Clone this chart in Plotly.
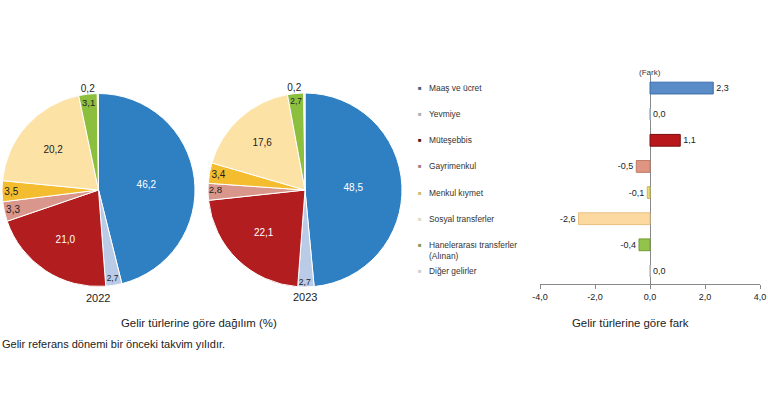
import plotly.graph_objects as go

categories = ["Maaş ve ücret", "Yevmiye", "Müteşebbis", "Gayrimenkul",
              "Menkul kıymet", "Sosyal transferler",
              "Hanelerarası transferler (Alınan)", "Diğer gelirler"]
legend_labels = ["Maaş ve ücret", "Yevmiye", "Müteşebbis", "Gayrimenkul",
                 "Menkul kıymet", "Sosyal transferler",
                 "Hanelerarası transferler<br>(Alınan)", "Diğer gelirler"]
share_2022 = [46.2, 2.7, 21.0, 3.3, 3.5, 20.2, 3.1, 0.2]
share_2023 = [48.5, 2.7, 22.1, 2.8, 3.4, 17.6, 2.7, 0.2]
difference = [2.3, 0.0, 1.1, -0.5, -0.1, -2.6, -0.4, 0.0]
x_ticks = [-4, -2, 0, 2, 4]

pie_colors = ["#2f7fc3", "#b9cbe6", "#b21d1f", "#d9968a",
              "#f3bd2f", "#fde2a6", "#8dbf3f", "#e6e6e6"]
bar_colors = ["#5a8cc8", "#bfcde3", "#b8171c", "#e09583",
              "#e8d87a", "#fbd9a1", "#93c34b", "#e0e0e0"]
bar_lines = ["#3d6ea8", "#a0b2cc", "#7a0f12", "#c07866",
             "#c8b850", "#e8c080", "#6f9c30", "#c0c0c0"]
legend_marker = ["#3f5f80", "#a8b0bc", "#5a1a22", "#a08088",
                 "#c8c070", "#e0dcc0", "#7f9a58", "#d0d0d0"]
text_colors = ["white", "#222", "white", "#222", "#222", "#222", "#222", "#222"]

FONT = "Liberation Sans, Arial, sans-serif"


def fmt(v):
    return f"{v:.1f}".replace(".", ",")


W, H = 768, 420


def px(x):
    return x / W


def py(y):
    return 1 - y / H


fig = go.Figure()

for vals, (x0, x1) in [(share_2022, (2, 195)), (share_2023, (208, 402))]:
    fig.add_trace(go.Pie(
        values=vals, labels=categories, text=[fmt(v) for v in vals],
        textinfo="text", sort=False, direction="clockwise", rotation=0,
        marker=dict(colors=pie_colors, line=dict(color="white", width=1)),
        textfont=dict(family=FONT, size=10, color=text_colors),
        textposition=["inside"] * 7 + ["outside"],
        insidetextorientation="horizontal", automargin=False,
        domain=dict(x=[px(x0), px(x1)], y=[py(287), py(93)]),
        showlegend=False, hoverinfo="label+value",
    ))

fig.add_trace(go.Bar(
    x=difference, y=categories, orientation="h",
    marker=dict(color=bar_colors, line=dict(color=bar_lines, width=1)),
    width=0.45,
    text=[fmt(v) for v in difference], textposition="outside",
    textfont=dict(family=FONT, size=9, color="#222"),
    cliponaxis=False, showlegend=False,
))

fig.update_xaxes(
    domain=[px(540), px(760)], range=[-4, 4], tickvals=x_ticks,
    ticktext=[fmt(v) for v in x_ticks], showgrid=False,
    showline=True, linecolor="#888", linewidth=1,
    ticks="outside", ticklen=4, tickcolor="#888",
    zeroline=True, zerolinecolor="#888", zerolinewidth=1,
    tickfont=dict(family=FONT, size=9, color="#222"), fixedrange=True,
    automargin=False,
)
fig.update_yaxes(
    domain=[py(284), py(75)], autorange="reversed", showticklabels=False,
    showgrid=False, showline=False, ticks="", type="category",
    automargin=False, fixedrange=True,
)

annotations = []
for cat, lab, col in zip(categories, legend_labels, legend_marker):
    two = "<br>" in lab
    annotations.append(dict(
        x=px(420), xref="paper", y=cat, yref="y", text="■",
        showarrow=False, xanchor="center", yanchor="middle",
        font=dict(family=FONT, size=6, color=col)))
    annotations.append(dict(
        x=px(427), xref="paper", y=cat, yref="y", text=lab,
        showarrow=False, xanchor="left",
        yanchor="top" if two else "middle", yshift=7 if two else 0,
        align="left",
        font=dict(family=FONT, size=8.4, color="#333")))

annotations += [
    dict(x=0, xref="x", y=py(72), yref="paper", text="(Fark)", showarrow=False,
         xanchor="center", yanchor="middle", font=dict(family=FONT, size=8, color="#333")),
    dict(x=px(98), xref="paper", y=py(298), yref="paper", text="2022", showarrow=False,
         xanchor="center", yanchor="middle", font=dict(family=FONT, size=11, color="#222")),
    dict(x=px(305), xref="paper", y=py(297), yref="paper", text="2023", showarrow=False,
         xanchor="center", yanchor="middle", font=dict(family=FONT, size=11, color="#222")),
    dict(x=px(199), xref="paper", y=py(323), yref="paper",
         text="Gelir türlerine göre dağılım (%)", showarrow=False,
         xanchor="center", yanchor="middle", font=dict(family=FONT, size=11.4, color="#222")),
    dict(x=px(630), xref="paper", y=py(323), yref="paper",
         text="Gelir türlerine göre fark", showarrow=False,
         xanchor="center", yanchor="middle", font=dict(family=FONT, size=11.4, color="#222")),
    dict(x=px(0), xref="paper", y=py(344), yref="paper",
         text="Gelir referans dönemi bir önceki takvim yılıdır.", showarrow=False,
         xanchor="left", yanchor="middle", font=dict(family=FONT, size=11, color="#222")),
]

fig.update_layout(
    width=W, height=H, margin=dict(l=0, r=0, t=0, b=0, pad=0, autoexpand=False),
    paper_bgcolor="white", plot_bgcolor="white",
    annotations=annotations, bargap=0.5,
    font=dict(family=FONT), hovermode=False,
)

fig.write_html(
    "out.html",
    config={"displayModeBar": False, "responsive": False},
    post_script="document.body.style.margin='0';document.body.style.padding='0';",
)
